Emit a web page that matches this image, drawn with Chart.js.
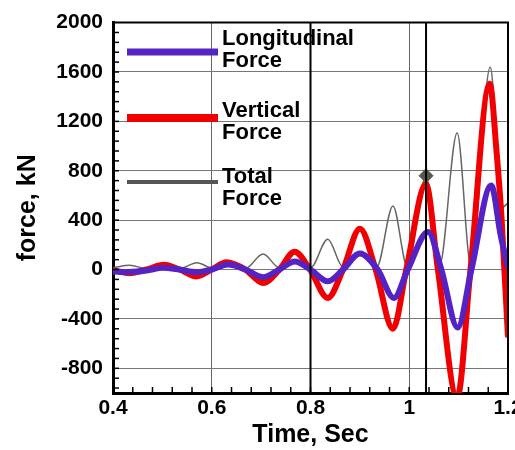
<!DOCTYPE html>
<html>
<head>
<meta charset="utf-8">
<script src="https://cdn.jsdelivr.net/npm/chart.js@4.4.0/dist/chart.umd.min.js"></script>
<style>
  html, body { margin: 0; padding: 0; background: #fff; overflow: hidden; }
  #wrap { width: 540px; height: 450px; }
</style>
</head>
<body>
<div id="wrap"><canvas id="forceChart"></canvas></div>
<script>
// values (time in s, force in kN)
const longTime  = [0.40, 0.434, 0.468, 0.501, 0.535, 0.570, 0.600, 0.633, 0.668, 0.704, 0.737, 0.768, 0.800, 0.835, 0.866, 0.900, 0.936, 0.969, 0.997, 1.038, 1.065, 1.098, 1.126, 1.166, 1.185, 1.200];
const longForce = [-15, -20, -8, 15, 0, -22, 0, 40, 0, -62, 0, 65, 0, -95, 0, 130, 0, -230, 0, 305, 0, -470, 0, 680, 280, 10];

const vertTime  = [0.40, 0.434, 0.468, 0.503, 0.535, 0.569, 0.600, 0.630, 0.668, 0.704, 0.737, 0.768, 0.799, 0.835, 0.866, 0.900, 0.932, 0.967, 0.994, 1.034, 1.058, 1.097, 1.124, 1.163, 1.177, 1.187, 1.200];
const vertForce = [-5, -30, 0, 38, 0, -56, 0, 58, 0, -110, 0, 145, 0, -230, 0, 330, 0, -480, 0, 690, 0, -1040, 0, 1505, 945, 410, -550];

const totalTime  = [0.40, 0.434, 0.468, 0.503, 0.535, 0.570, 0.602, 0.632, 0.668, 0.704, 0.737, 0.768, 0.800, 0.835, 0.866, 0.900, 0.934, 0.967, 0.996, 1.034, 1.061, 1.097, 1.125, 1.164, 1.177, 1.187, 1.200];
const totalForce = [15, 35, 8, 40, 8, 55, 10, 70, 10, 125, 15, 155, 15, 245, 20, 345, 20, 515, 25, 755, 30, 1105, 30, 1640, 1050, 500, 540];

const peakMarker = { x: 1.034, y: 760 };
const eventTimes = [0.8, 1.034];

const xTicks = [0.4, 0.6, 0.8, 1.0, 1.2];
const yTicks = [-800, -400, 0, 400, 800, 1200, 1600, 2000];
const minorStepX = 0.04;
const minorStepY = 80;

const legendLabels = [['Longitudinal', 'Force'], ['Vertical', 'Force'], ['Total', 'Force']];

const FONT = "'Liberation Sans', Arial, Helvetica, sans-serif";
const LONG_COLOR = '#5522c4';
const VERT_COLOR = '#f00000';
const TOTAL_COLOR = '#666666';

const toPoints = (ts, vs) => ts.map((t, i) => ({ x: t, y: vs[i] }));

// minor ticks pointing inward, plus top/right frame
const frameAndTicks = {
  id: 'frameAndTicks',
  afterDraw(chart) {
    const { ctx, chartArea: a, scales: { x, y } } = chart;
    ctx.save();
    ctx.strokeStyle = '#000';
    ctx.lineWidth = 1.5;
    const nx = Math.round((x.max - x.min) / minorStepX);
    for (let i = 1; i < nx; i++) {
      const px = x.getPixelForValue(x.min + i * minorStepX);
      ctx.beginPath();
      ctx.moveTo(px, a.bottom);
      ctx.lineTo(px, a.bottom - 6);
      ctx.stroke();
    }
    for (let v = yTicks[0] - 2 * minorStepY; v < y.max; v += minorStepY) {
      const py = y.getPixelForValue(v);
      ctx.beginPath();
      ctx.moveTo(a.left, py);
      ctx.lineTo(a.left + 6, py);
      ctx.stroke();
    }
    ctx.lineWidth = 2;
    ctx.beginPath();
    ctx.moveTo(a.left, a.top);
    ctx.lineTo(a.right, a.top);
    ctx.lineTo(a.right, a.bottom);
    ctx.stroke();
    ctx.restore();
  }
};

// legend inside the plot, two-line labels
const insideLegend = {
  id: 'insideLegend',
  afterDraw(chart) {
    const { ctx, chartArea: a } = chart;
    const rows = [
      { color: LONG_COLOR, width: 7, lineY: 52, base: 45 },
      { color: VERT_COLOR, width: 8, lineY: 118, base: 117 },
      { color: '#555', width: 4, lineY: 182, base: 183 }
    ];
    ctx.save();
    rows.forEach((r, i) => {
      ctx.strokeStyle = r.color;
      ctx.lineWidth = r.width;
      ctx.lineCap = 'butt';
      ctx.beginPath();
      ctx.moveTo(a.left + 14, r.lineY);
      ctx.lineTo(a.left + 105, r.lineY);
      ctx.stroke();
      ctx.fillStyle = '#000';
      ctx.font = 'bold 22px ' + FONT;
      ctx.textAlign = 'left';
      ctx.textBaseline = 'alphabetic';
      legendLabels[i].forEach((line, j) => {
        ctx.fillText(line, a.left + 109, r.base + j * 22);
      });
    });
    ctx.restore();
  }
};

const eventSets = eventTimes.map(t => ({
  data: [{ x: t, y: -1000 }, { x: t, y: 2000 }],
  borderColor: '#000',
  borderWidth: 2,
  pointRadius: 0,
  order: 0
}));

new Chart(document.getElementById('forceChart'), {
  type: 'line',
  data: {
    datasets: [
      ...eventSets,
      {
        label: 'Peak',
        data: [peakMarker],
        showLine: false,
        pointStyle: 'rectRot',
        pointRadius: 7,
        pointBackgroundColor: '#56584c',
        pointBorderColor: '#56584c',
        order: 1
      },
      {
        label: 'Longitudinal Force',
        data: toPoints(longTime, longForce),
        borderColor: LONG_COLOR,
        borderWidth: 6,
        pointRadius: 0,
        cubicInterpolationMode: 'monotone',
        clip: 0,
        order: 2
      },
      {
        label: 'Vertical Force',
        data: toPoints(vertTime, vertForce),
        borderColor: VERT_COLOR,
        borderWidth: 6,
        pointRadius: 0,
        cubicInterpolationMode: 'monotone',
        clip: 0,
        order: 3
      },
      {
        label: 'Total Force',
        data: toPoints(totalTime, totalForce),
        borderColor: TOTAL_COLOR,
        borderWidth: 1.5,
        pointRadius: 0,
        cubicInterpolationMode: 'monotone',
        clip: 0,
        order: 4
      }
    ]
  },
  options: {
    responsive: true,
    maintainAspectRatio: false,
    animation: false,
    layout: { padding: { top: 20, right: 32, bottom: 0, left: 0 } },
    plugins: {
      legend: { display: false },
      tooltip: { enabled: false }
    },
    scales: {
      x: {
        type: 'linear',
        min: 0.4,
        max: 1.2,
        afterBuildTicks: s => { s.ticks = xTicks.map(v => ({ value: v })); },
        afterFit: s => { s.height = 57; },
        ticks: {
          color: '#000',
          font: { family: FONT, size: 21, weight: 'bold' },
          padding: 3,
          maxRotation: 0,
          autoSkip: false,
          callback: v => String(Math.round(v * 10) / 10)
        },
        grid: { color: '#666', lineWidth: 1, drawTicks: false },
        border: { color: '#000', width: 3 },
        title: {
          display: true,
          text: 'Time, Sec',
          color: '#000',
          font: { family: FONT, size: 25, weight: 'bold' },
          padding: { top: 0, bottom: 0 }
        }
      },
      y: {
        min: -1000,
        max: 2000,
        afterBuildTicks: s => { s.ticks = yTicks.map(v => ({ value: v })); },
        afterFit: s => { s.width = 113; },
        ticks: {
          color: '#000',
          font: { family: FONT, size: 21, weight: 'bold' },
          padding: 10,
          autoSkip: false,
          callback: v => String(v)
        },
        grid: { color: '#777', lineWidth: 1, drawTicks: false },
        border: { color: '#000', width: 3 },
        title: {
          display: true,
          text: 'force, kN',
          color: '#000',
          font: { family: FONT, size: 25, weight: 'bold' },
          padding: { top: 13, bottom: 0 }
        }
      }
    }
  },
  plugins: [frameAndTicks, insideLegend]
});
</script>
</body>
</html>
